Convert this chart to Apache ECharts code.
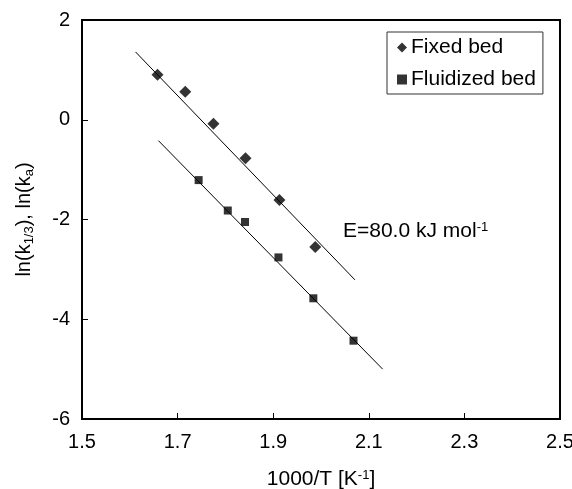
<!DOCTYPE html>
<html><head><meta charset="utf-8">
<script src="https://cdn.jsdelivr.net/npm/echarts@6/dist/echarts.min.js"></script>
<style>html,body{margin:0;padding:0;background:#fff}#c{width:572px;height:489px}</style>
</head><body><div id="c"></div>
<script>
// Data
const fixedX = [1.658, 1.716, 1.775, 1.842, 1.913, 1.988];
const fixedY = [0.90, 0.56, -0.08, -0.77, -1.61, -2.55];
const fluidX = [1.744, 1.805, 1.841, 1.911, 1.984, 2.068];
const fluidY = [-1.21, -1.82, -2.05, -2.76, -3.58, -4.43];
const fitFixedX = [1.612, 2.071];
const fitFixedY = [1.36, -3.21];
const fitFluidX = [1.660, 2.129];
const fitFluidY = [-0.42, -5.00];
const xTicks = [1.5, 1.7, 1.9, 2.1, 2.3, 2.5];
const yTicks = [-6, -4, -2, 0, 2];
const annotation = {x: 2.046, y: -2.23};

const zip = (a, b) => a.map((v, i) => [v, b[i]]);
const font = 'Liberation Sans, Arial, sans-serif';
const FS = 21;
const chart = echarts.init(document.getElementById('c'), null, {renderer: 'canvas'});
chart.setOption({
  backgroundColor: '#fff',
  animation: false,
  grid: {left: 82, right: 12, top: 20, bottom: 70, show: true, borderColor: '#000', borderWidth: 2,
         containLabel: false, outerBoundsMode: 'none'},
  legend: {
    orient: 'vertical', left: 387, top: 32,
    padding: [5, 7, 4, 10], itemGap: 11,
    borderColor: '#333', borderWidth: 1, backgroundColor: '#fff',
    itemWidth: 10, itemHeight: 10,
    textStyle: {fontFamily: font, fontSize: FS, color: '#000', padding: [0, 0, 0, -1]},
    data: [{name: 'Fixed bed', icon: 'diamond'}, {name: 'Fluidized bed', icon: 'rect'}]
  },
  xAxis: {
    type: 'value', min: xTicks[0], max: xTicks[xTicks.length - 1], interval: 0.2,
    axisLine: {show: true, onZero: false, lineStyle: {color: '#000', width: 2}},
    axisTick: {show: true, inside: true, length: 6, lineStyle: {color: '#000', width: 1}},
    splitLine: {show: false},
    axisLabel: {fontFamily: font, fontSize: FS - 1, color: '#000', margin: 13, formatter: v => v.toFixed(1)},
    name: '1000/T [K{sup|-1}]', nameLocation: 'middle', nameGap: 50,
    nameTextStyle: {fontFamily: font, fontSize: FS, color: '#000',
      rich: {sup: {fontSize: 13, verticalAlign: 'top', fontFamily: font, color: '#000'}}}
  },
  yAxis: {
    type: 'value', min: yTicks[0], max: yTicks[yTicks.length - 1], interval: 2,
    axisLine: {show: true, onZero: false, lineStyle: {color: '#000', width: 2}},
    axisTick: {show: true, inside: true, length: 6, lineStyle: {color: '#000', width: 1}},
    splitLine: {show: false},
    axisLabel: {fontFamily: font, fontSize: FS - 1, color: '#000', margin: 12},
    name: 'ln(k{sub|1/3}), ln(k{sub|a})', nameLocation: 'middle', nameGap: 46, nameRotate: 90,
    nameTextStyle: {fontFamily: font, fontSize: FS - 1, color: '#000', lineHeight: 24,
      rich: {sub: {fontSize: 13, verticalAlign: 'bottom', fontFamily: font, color: '#000', lineHeight: 24}}}
  },
  series: [
    {name: 'Fixed bed', type: 'scatter', symbol: 'diamond', symbolSize: 12,
     itemStyle: {color: '#000'}, data: zip(fixedX, fixedY), z: 3},
    {name: 'Fluidized bed', type: 'scatter', symbol: 'rect', symbolSize: 8,
     itemStyle: {color: '#000'}, data: zip(fluidX, fluidY), z: 3},
    {name: 'fitFixed', type: 'line', symbol: 'none', lineStyle: {color: '#000', width: 1},
     data: zip(fitFixedX, fitFixedY), z: 2},
    {name: 'fitFluid', type: 'line', symbol: 'none', lineStyle: {color: '#000', width: 1},
     data: zip(fitFluidX, fitFluidY), z: 2}
  ]
});
const p = chart.convertToPixel({gridIndex: 0}, [annotation.x, annotation.y]);
chart.setOption({graphic: [{
  type: 'text', x: p[0], y: p[1],
  style: {text: 'E=80.0 kJ mol{sup|-1}', fontFamily: font, fontSize: FS, fill: '#000', verticalAlign: 'middle',
    rich: {sup: {fontSize: 13, verticalAlign: 'top', fontFamily: font, fill: '#000'}}}
}]});
</script></body></html>
